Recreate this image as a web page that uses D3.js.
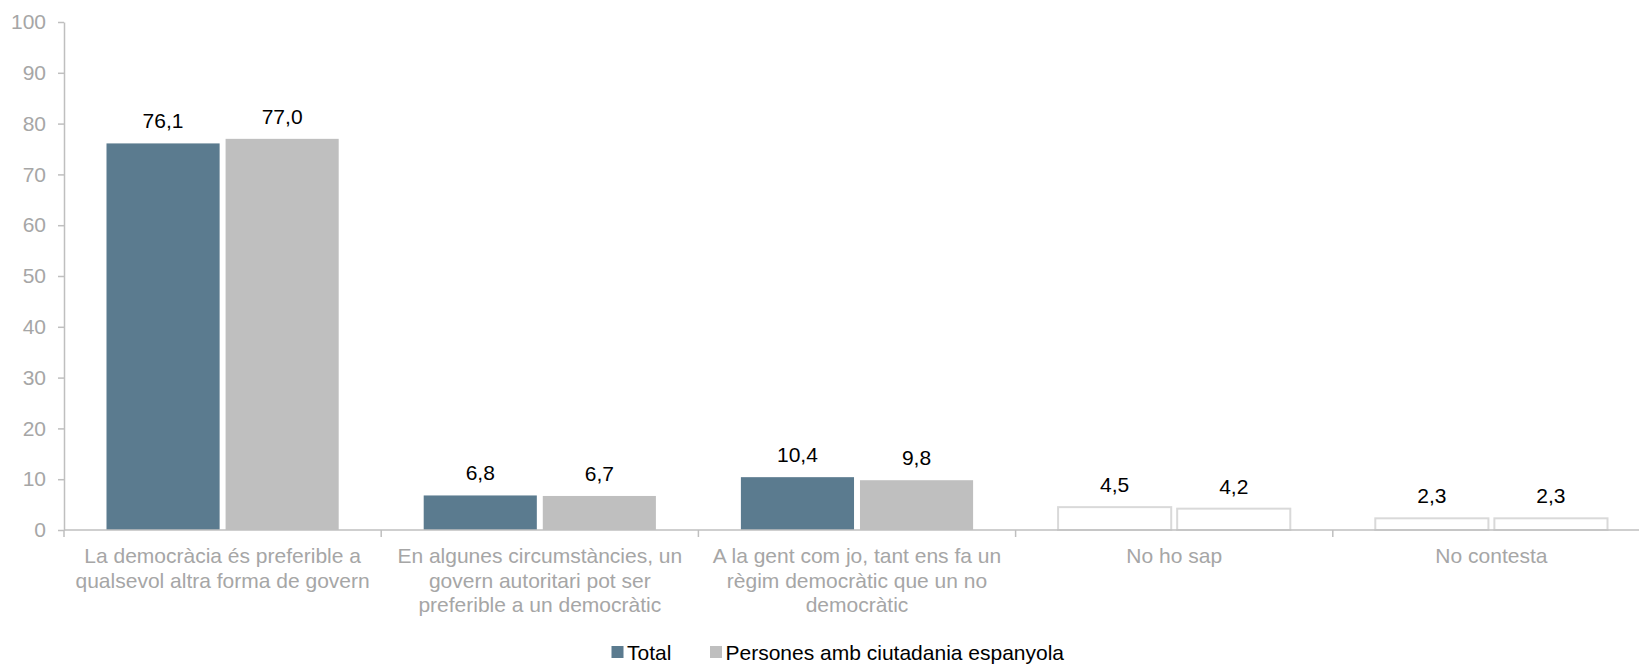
<!DOCTYPE html>
<html>
<head>
<meta charset="utf-8">
<script src="https://cdn.jsdelivr.net/npm/d3@7"></script>
<style>
  body { margin: 0; background: #fff; }
  svg text { font-family: Arial, "Liberation Sans", sans-serif; }
</style>
</head>
<body>
<div id="chart"></div>
<script>
// Dades
const categories = [
    'La democràcia és preferible a qualsevol altra forma de govern',
    'En algunes circumstàncies, un govern autoritari pot ser preferible a un democràtic',
    'A la gent com jo, tant ens fa un règim democràtic que un no democràtic',
    'No ho sap',
    'No contesta'
];
const categoryLines = [
    ['La democràcia és preferible a', 'qualsevol altra forma de govern'],
    ['En algunes circumstàncies, un', 'govern autoritari pot ser', 'preferible a un democràtic'],
    ['A la gent com jo, tant ens fa un', 'règim democràtic que un no', 'democràtic'],
    ['No ho sap'],
    ['No contesta']
];
const seriesNames = ['Total', 'Persones amb ciutadania espanyola'];
const totalValues = [76.1, 6.8, 10.4, 4.5, 2.3];
const ciutadaniaValues = [77.0, 6.7, 9.8, 4.2, 2.3];
const yTicks = [0, 10, 20, 30, 40, 50, 60, 70, 80, 90, 100];

const W = 1639, H = 664;
const colors = ['#5b7b8f', '#bfbfbf'];
const hollowFrom = 3; // "No ho sap" i "No contesta" sense farciment

const svg = d3.select('#chart').append('svg')
    .attr('width', W).attr('height', H);

const x = d3.scaleBand().domain(categories).range([64, 1650]).paddingInner(0).paddingOuter(0);
const xs = d3.scaleBand().domain(seriesNames).range([42.5, x.bandwidth() - 42.5]).paddingInner(0.05);
const y = d3.scaleLinear().domain([0, 100]).range([530, 22]);

// Eix Y
const yAxis = svg.append('g')
    .attr('transform', 'translate(64,0)')
    .call(d3.axisLeft(y).tickValues(yTicks).tickSize(6).tickSizeOuter(0).tickPadding(12));
yAxis.select('.domain').attr('stroke', '#bfbfbf').attr('stroke-width', 1.5);
yAxis.selectAll('.tick line').attr('stroke', '#bfbfbf').attr('stroke-width', 1.5);
yAxis.selectAll('.tick text')
    .style('font-size', '21px').style('fill', '#a6a6a6');

// Barres
const rows = categories.map((c, i) => ({ cat: c, i: i, vals: [totalValues[i], ciutadaniaValues[i]] }));

const groups = svg.append('g').selectAll('g')
    .data(rows).join('g')
    .attr('transform', d => `translate(${x(d.cat)},0)`);

groups.selectAll('rect')
    .data(d => d.vals.map((v, k) => ({ v: v, k: k, i: d.i })))
    .join('rect')
    .attr('x', d => xs(seriesNames[d.k]))
    .attr('y', d => y(d.v))
    .attr('width', xs.bandwidth())
    .attr('height', d => y(0) - y(d.v))
    .attr('fill', d => d.i >= hollowFrom ? '#ffffff' : colors[d.k])
    .attr('stroke', d => d.i >= hollowFrom ? '#d9d9d9' : 'none')
    .attr('stroke-width', 2);

// Etiquetes de valor
groups.selectAll('text.val')
    .data(d => d.vals.map((v, k) => ({ v: v, k: k })))
    .join('text')
    .attr('class', 'val')
    .attr('x', d => xs(seriesNames[d.k]) + xs.bandwidth() / 2)
    .attr('y', d => y(d.v) - 15)
    .attr('text-anchor', 'middle')
    .style('font-size', '21px').style('fill', '#000')
    .text(d => d3.format('.1f')(d.v).replace('.', ','));

// Eix X
const xAxis = svg.append('g');
xAxis.append('line')
    .attr('x1', 64).attr('x2', 1650)
    .attr('y1', y(0)).attr('y2', y(0))
    .attr('stroke', '#bfbfbf').attr('stroke-width', 1.5);
xAxis.selectAll('line.tk')
    .data(categories.map(c => x(c)).concat([x.range()[1]]))
    .join('line')
    .attr('class', 'tk')
    .attr('x1', d => d).attr('x2', d => d)
    .attr('y1', y(0)).attr('y2', y(0) + 7)
    .attr('stroke', '#bfbfbf').attr('stroke-width', 1.5);

const catText = xAxis.selectAll('text.cat')
    .data(rows).join('text')
    .attr('class', 'cat')
    .attr('x', d => x(d.cat) + x.bandwidth() / 2)
    .attr('y', 563)
    .attr('text-anchor', 'middle')
    .style('font-size', '21px').style('fill', '#a6a6a6');
catText.selectAll('tspan')
    .data(d => categoryLines[d.i].map(t => ({ t: t, cx: x(d.cat) + x.bandwidth() / 2 })))
    .join('tspan')
    .attr('x', d => d.cx)
    .attr('dy', (d, j) => j === 0 ? 0 : 24.5)
    .text(d => d.t);

// Llegenda
const legendPos = [611.5, 710];
const legend = svg.append('g');
const li = legend.selectAll('g').data(seriesNames).join('g')
    .attr('transform', (d, k) => `translate(${legendPos[k]},652)`);
li.append('rect')
    .attr('x', 0).attr('y', -6).attr('width', 12).attr('height', 12)
    .attr('fill', (d, k) => colors[k]);
li.append('text')
    .attr('x', 15.5).attr('y', 7.5)
    .style('font-size', '21px').style('fill', '#000')
    .text(d => d);
</script>
</body>
</html>
